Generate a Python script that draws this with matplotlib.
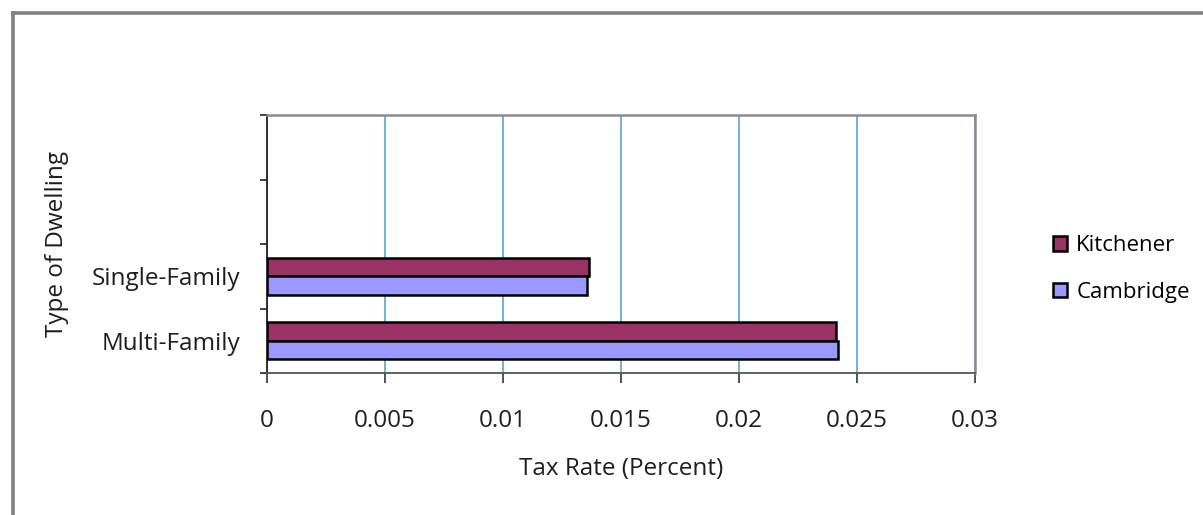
import matplotlib
matplotlib.use("Agg")
import matplotlib.pyplot as plt
from matplotlib.lines import Line2D
import numpy as np

plt.rcParams['font.family'] = ['Open Sans', 'DejaVu Sans']

# Category slots (bottom to top); only the first two carry data
categories = ["Multi-Family", "Single-Family", "", ""]
series_names = ["Kitchener", "Cambridge"]
kitchener = [0.0241, 0.01365]
cambridge = [0.0242, 0.01355]
colors = ["#993366", "#9999FF"]
x_ticks = [0, 0.005, 0.01, 0.015, 0.02, 0.025, 0.03]
x_tick_labels = ["0", "0.005", "0.01", "0.015", "0.02", "0.025", "0.03"]

FS = 17.5
TXT = "#1e1e1e"

fig = plt.figure(figsize=(12.03, 5.15), dpi=100)
fig.patch.set_facecolor("white")

# Outer chart frame (left and top edges visible)
fig.add_artist(Line2D([13 / 1203, 13 / 1203], [0, 1 - 13 / 515],
                      transform=fig.transFigure, color="#808080", lw=2.6))
fig.add_artist(Line2D([13 / 1203, 1.0], [1 - 13 / 515, 1 - 13 / 515],
                      transform=fig.transFigure, color="#808080", lw=2.6))

ax = fig.add_axes([267 / 1203, 1 - 373 / 515, 708 / 1203, 258 / 515])

bar_h = 0.284
pos = np.arange(len(kitchener))
ax.barh(pos + bar_h / 2, kitchener, height=bar_h, color=colors[0],
        edgecolor="black", linewidth=1.8, label=series_names[0], zorder=3)
ax.barh(pos - bar_h / 2, cambridge, height=bar_h, color=colors[1],
        edgecolor="black", linewidth=1.8, label=series_names[1], zorder=3)

ax.set_xlim(0, 0.03)
ax.set_ylim(-0.5, len(categories) - 0.5)

ax.set_xticks(x_ticks)
ax.set_xticklabels(x_tick_labels, fontsize=FS, color=TXT)
ax.tick_params(axis="x", direction="out", length=7, width=1.2,
               color="#333333", pad=19)
ax.xaxis.grid(True, color="#4a9bd8", linewidth=1.1, zorder=0)
ax.set_axisbelow(True)

# Tick marks on slot boundaries, labels at slot centres
ax.set_yticks(np.arange(len(categories) + 1) - 0.5)
ax.set_yticklabels([])
ax.tick_params(axis="y", which="major", direction="out", length=5,
               width=1.2, color="#222222")
ax.set_yticks(pos[:len(kitchener)], minor=True)
ax.set_yticklabels(categories[:len(kitchener)], minor=True, fontsize=FS,
                   color=TXT)
ax.tick_params(axis="y", which="minor", length=0, pad=19)

ax.spines["left"].set_color("#222222")
ax.spines["left"].set_linewidth(1.3)
ax.spines["bottom"].set_color("#555555")
ax.spines["bottom"].set_linewidth(1.3)
ax.spines["top"].set_color("#8c8c8c")
ax.spines["top"].set_linewidth(1.8)
ax.spines["right"].set_color("#8c8c8c")
ax.spines["right"].set_linewidth(1.8)

ax.set_xlabel("Tax Rate (Percent)", fontsize=FS, color=TXT, labelpad=17)
fig.text(57 / 1203, 1 - 244 / 515, "Type of Dwelling", rotation=90,
         fontsize=FS, color=TXT, ha="center", va="center")

leg = fig.legend(loc="center left", bbox_to_anchor=(1033 / 1203, 1 - 269 / 515),
                 frameon=False, fontsize=16, handlelength=0.65,
                 handleheight=0.65, handletextpad=0.4, labelspacing=1.15)
for h in leg.legend_handles:
    h.set_edgecolor("black")
    h.set_linewidth(1.8)

fig.savefig("out.png", dpi=100, facecolor="white")
